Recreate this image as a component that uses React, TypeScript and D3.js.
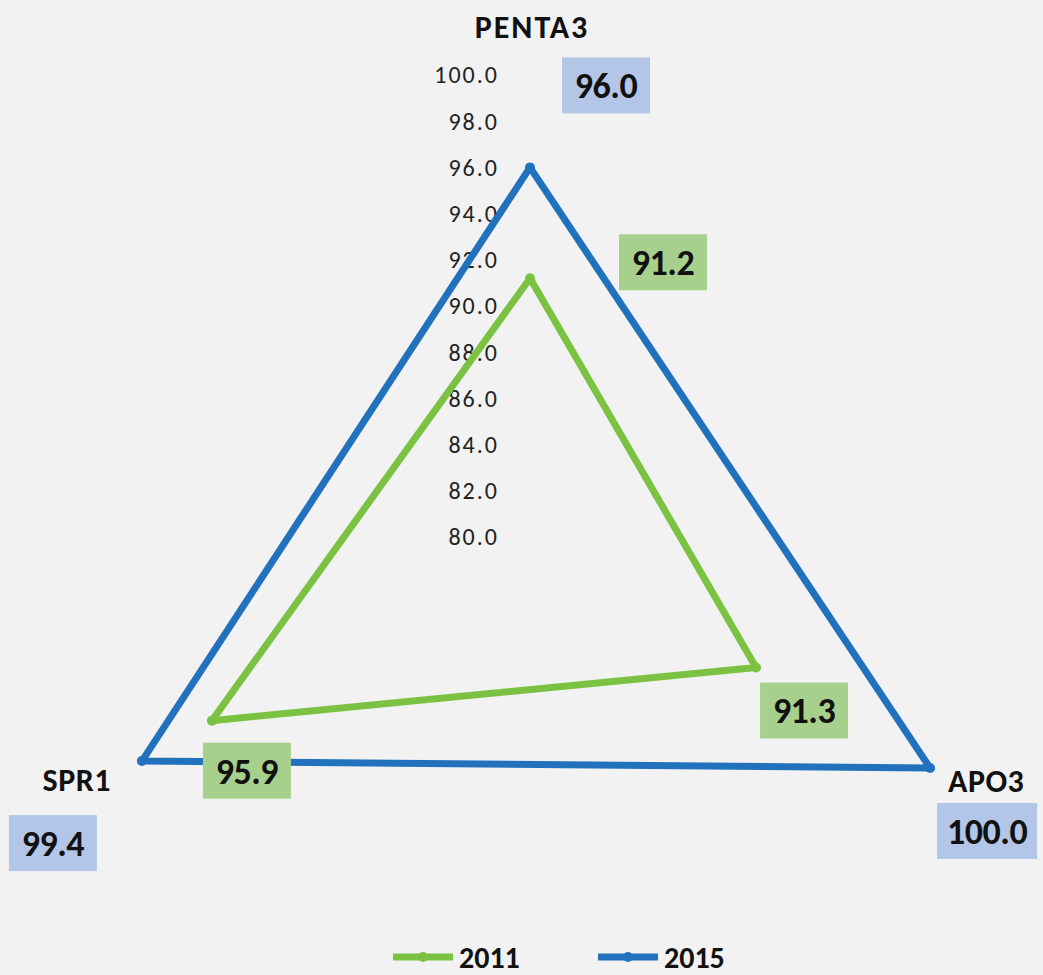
import React from "react";
import * as d3 from "d3";

const axes = ["PENTA3", "APO3", "SPR1"];
const values2011 = [91.2, 91.3, 95.9];
const values2015 = [96.0, 100.0, 99.4];
const ticks = [80, 82, 84, 86, 88, 90, 92, 94, 96, 98, 100];
const seriesNames = ["2011", "2015"];

const W = 1043, H = 975;
const cx = 530, cy = 537, R = 462;
const green = "#7cc242";
const blue = "#2271bd";
const greenBox = "#a8d08d";
const blueBox = "#b4c6e7";

// label offsets from point (dx, dy) for each series
const off2011 = [[133, -16], [48, 43], [35, 50]];
const off2015 = [[76, -82], [57, 63], [-89, 82]];

export default function App() {
  const r = d3.scaleLinear().domain([80, 100]).range([0, R]);
  const angle = (i: number) => (i * 2 * Math.PI) / axes.length;
  const pt = (i: number, v: number): [number, number] => [
    cx + r(v) * Math.sin(angle(i)),
    cy - r(v) * Math.cos(angle(i)),
  ];
  const line = d3.line().curve(d3.curveLinearClosed);
  const series = [
    { name: seriesNames[0], vals: values2011, color: green, box: greenBox, off: off2011 },
    { name: seriesNames[1], vals: values2015, color: blue, box: blueBox, off: off2015 },
  ];
  const font = "Carlito, Calibri, Lato, 'Open Sans', sans-serif";
  const axisLabelPos = [
    { x: cx + 2, y: 27, anchor: "middle" },
    { x: 948, y: 781, anchor: "start" },
    { x: 111, y: 780, anchor: "end" },
  ];
  return (
    <svg width={W} height={H} style={{ position: "absolute", left: 0, top: 0, background: "#f2f2f2" }} fontFamily={font}>
      <rect x={0} y={0} width={W} height={H} fill="#f2f2f2" />
      {ticks.map((t) => (
        <text key={t} x={499} y={cy - r(t)} dy="0.35em" textAnchor="end" fontSize={24} letterSpacing={2} fill="#222">
          {t.toFixed(1)}
        </text>
      ))}
      {series.map((s) => (
        <g key={s.name}>
          <path d={line(s.vals.map((v, i) => pt(i, v))) || ""} fill="none" stroke={s.color} strokeWidth={7} strokeLinejoin="round" />
          {s.vals.map((v, i) => {
            const [x, y] = pt(i, v);
            return <circle key={i} cx={x} cy={y} r={5} fill={s.color} />;
          })}
        </g>
      ))}
      {axes.map((a, i) => (
        <text key={a} x={axisLabelPos[i].x} y={axisLabelPos[i].y} dy="0.35em" textAnchor={axisLabelPos[i].anchor as any} fontSize={32} letterSpacing={i === 0 ? 2 : 0.5} fontWeight="bold" fill="#111">
          {a}
        </text>
      ))}
      {series.map((s) =>
        s.vals.map((v, i) => {
          const [x, y] = pt(i, v);
          const lx = x + s.off[i][0], ly = y + s.off[i][1];
          const label = v.toFixed(1);
          const w = label.length * 12 + 40;
          return (
            <g key={s.name + i}>
              <rect x={lx - w / 2} y={ly - 28} width={w} height={56} fill={s.box} />
              <text x={lx} y={ly} dy="0.36em" textAnchor="middle" fontSize={36} letterSpacing={-0.5} fontWeight="bold" fill="#111">
                {label}
              </text>
            </g>
          );
        })
      )}
      {series.map((s, k) => {
        const x0 = k === 0 ? 393 : 598;
        return (
          <g key={"lg" + s.name}>
            <line x1={x0} x2={x0 + 60} y1={957} y2={957} stroke={s.color} strokeWidth={7} />
            <circle cx={x0 + 30} cy={957} r={5} fill={s.color} />
            <text x={x0 + 66} y={957} dy="0.36em" fontSize={30} fontWeight="bold" fill="#111">
              {s.name}
            </text>
          </g>
        );
      })}
    </svg>
  );
}
